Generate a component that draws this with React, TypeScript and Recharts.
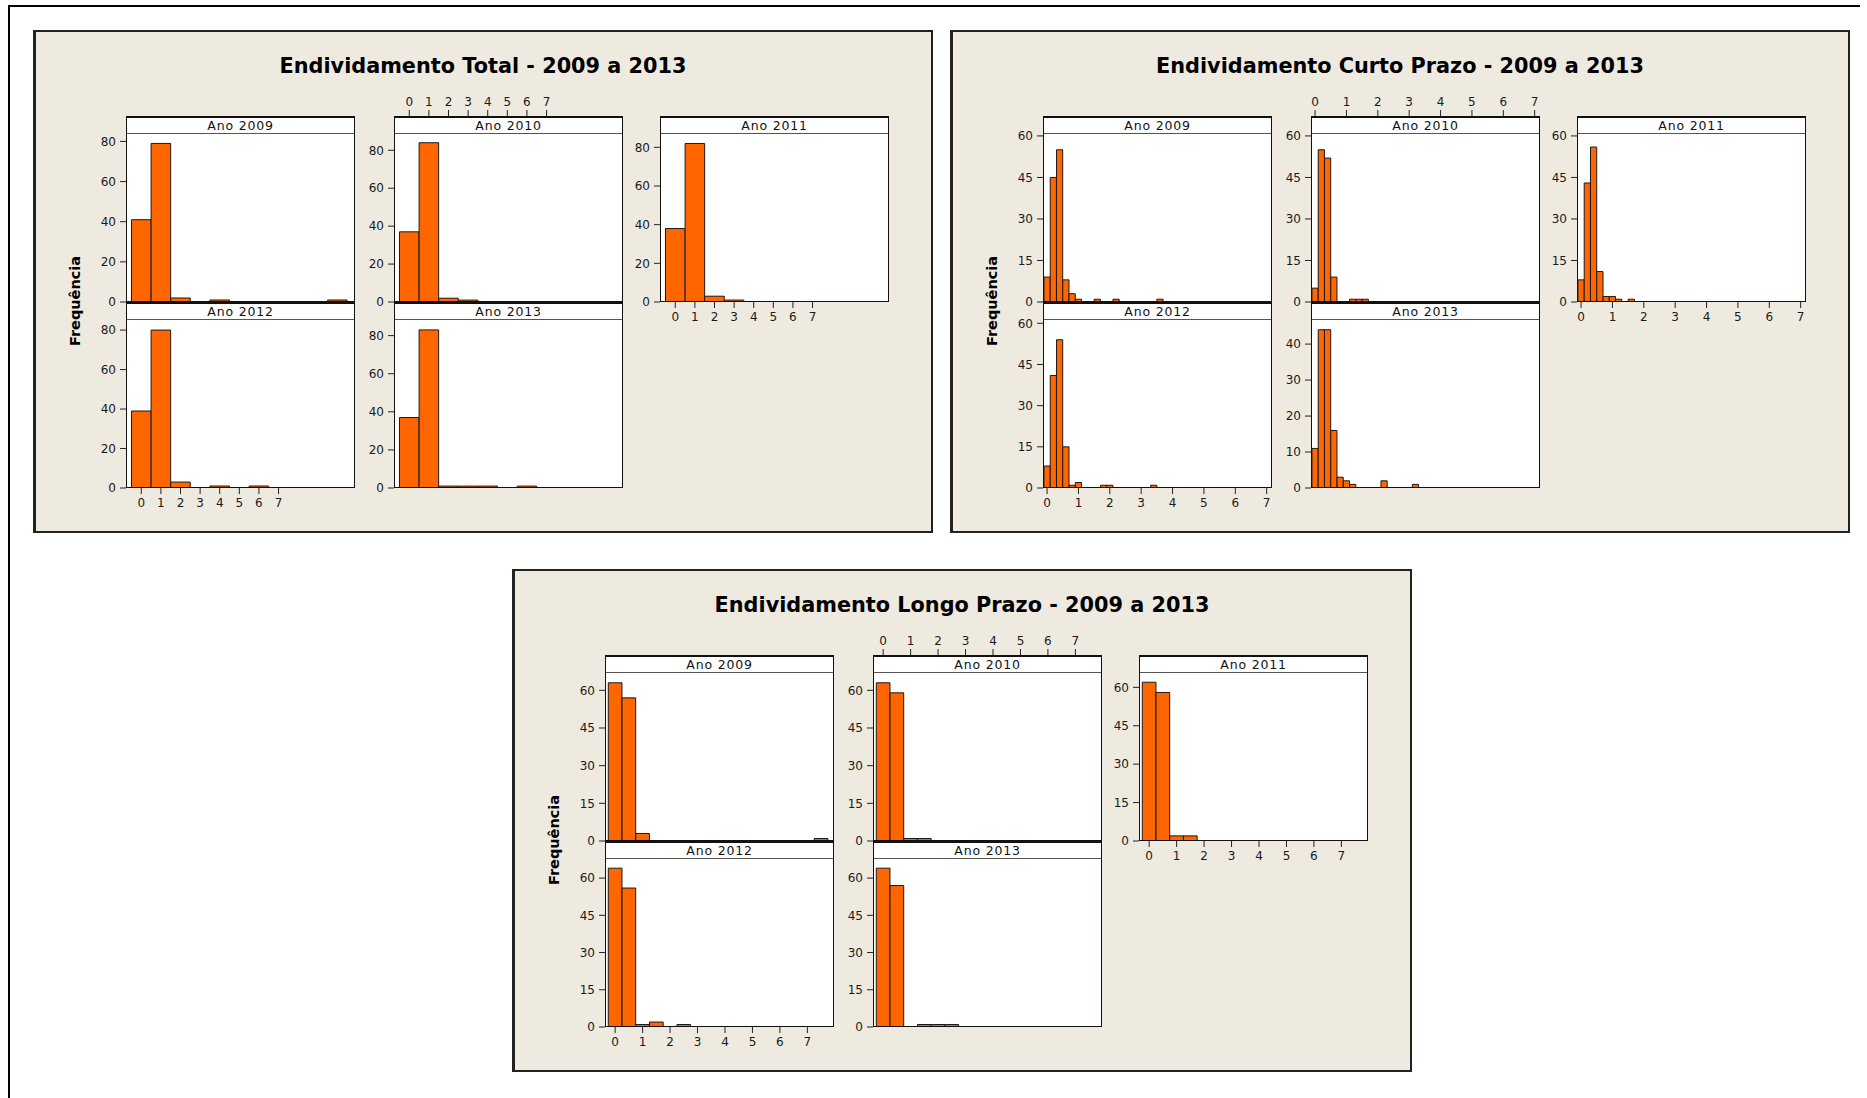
import React from 'react';
import { BarChart, Bar, XAxis, YAxis } from 'recharts';

const FONT = '"DejaVu Sans", Verdana, sans-serif';

const anos = ['Ano 2009', 'Ano 2010', 'Ano 2011', 'Ano 2012', 'Ano 2013'];
const xTicks = [0, 1, 2, 3, 4, 5, 6, 7];

// Endividamento Total: classes de largura 1
const totalClasses = [0, 1, 2, 3, 4, 5, 6, 7, 8, 9, 10];
const total2009 = [41, 79, 2, 0, 1, 0, 0, 0, 0, 0, 1];
const total2010 = [37, 84, 2, 1, 0, 0, 0, 0, 0, 0, 0];
const total2011 = [38, 82, 3, 1, 0, 0, 0, 0, 0, 0, 0];
const total2012 = [39, 80, 3, 0, 1, 0, 1, 0, 0, 0, 0];
const total2013 = [37, 83, 1, 1, 1, 0, 1, 0, 0, 0, 0];
const totalYMax = [83.7, 88.6, 86.9, 85.1, 88.2];
const totalYTicks = [0, 20, 40, 60, 80];

// Endividamento Curto Prazo: classes de largura 0,2
const curtoClasses = [0, 0.2, 0.4, 0.6, 0.8, 1, 1.2, 1.4, 1.6, 1.8, 2, 2.2, 2.4, 2.6, 2.8, 3, 3.2, 3.4, 3.6];
const curto2009 = [9, 45, 55, 8, 3, 1, 0, 0, 1, 0, 0, 1, 0, 0, 0, 0, 0, 0, 1];
const curto2010 = [5, 55, 52, 9, 0, 0, 1, 1, 1, 0, 0, 0, 0, 0, 0, 0, 0, 0, 0];
const curto2011 = [8, 43, 56, 11, 2, 2, 1, 0, 1, 0, 0, 0, 0, 0, 0, 0, 0, 0, 0];
const curto2012 = [8, 41, 54, 15, 1, 2, 0, 0, 0, 1, 1, 0, 0, 0, 0, 0, 0, 1, 0];
const curto2013 = [11, 44, 44, 16, 3, 2, 1, 0, 0, 0, 0, 2, 0, 0, 0, 0, 1, 0, 0];
const curtoYMax = [60.7, 60.7, 60.7, 61.2, 46.7];
const curtoYTicks = [0, 15, 30, 45, 60];
const curtoYTicks2013 = [0, 10, 20, 30, 40];

// Endividamento Longo Prazo: classes de largura 0,5
const longoClasses = [0, 0.5, 1, 1.5, 2, 2.5, 3, 3.5, 4, 4.5, 5, 5.5, 6, 6.5, 7, 7.5];
const longo2009 = [63, 57, 3, 0, 0, 0, 0, 0, 0, 0, 0, 0, 0, 0, 0, 1];
const longo2010 = [63, 59, 1, 1, 0, 0, 0, 0, 0, 0, 0, 0, 0, 0, 0, 0];
const longo2011 = [62, 58, 2, 2, 0, 0, 0, 0, 0, 0, 0, 0, 0, 0, 0, 0];
const longo2012 = [64, 56, 1, 2, 0, 1, 0, 0, 0, 0, 0, 0, 0, 0, 0, 0];
const longo2013 = [64, 57, 0, 1, 1, 1, 0, 0, 0, 0, 0, 0, 0, 0, 0, 0];
const longoYMax = [66.9, 66.9, 65.6, 67.7, 67.7];
const longoYTicks = [0, 15, 30, 45, 60];

type Grupo = {
  titulo: string;
  origem: [number, number];
  classes: number[];
  series: number[][];
  yMax: number[];
  yTicks: number[][];
  xDomain: [number, number];
  larguraClasse: number;
};

const grupos: Grupo[] = [
  {
    titulo: 'Endividamento Total - 2009 a 2013',
    origem: [33, 30],
    classes: totalClasses,
    series: [total2009, total2010, total2011, total2012, total2013],
    yMax: totalYMax,
    yTicks: [totalYTicks, totalYTicks, totalYTicks, totalYTicks, totalYTicks],
    xDomain: [-0.78, 10.9],
    larguraClasse: 1,
  },
  {
    titulo: 'Endividamento Curto Prazo - 2009 a 2013',
    origem: [950, 30],
    classes: curtoClasses,
    series: [curto2009, curto2010, curto2011, curto2012, curto2013],
    yMax: curtoYMax,
    yTicks: [curtoYTicks, curtoYTicks, curtoYTicks, curtoYTicks, curtoYTicks2013],
    xDomain: [-0.13, 7.17],
    larguraClasse: 0.2,
  },
  {
    titulo: 'Endividamento Longo Prazo - 2009 a 2013',
    origem: [512, 569],
    classes: longoClasses,
    series: [longo2009, longo2010, longo2011, longo2012, longo2013],
    yMax: longoYMax,
    yTicks: [longoYTicks, longoYTicks, longoYTicks, longoYTicks, longoYTicks],
    xDomain: [-0.37, 7.97],
    larguraClasse: 0.5,
  },
];

// trellis layout of one panel (offsets inside the panel)
const PANEL_W = 900;
const PANEL_H = 503;
const COL_X = [93, 361, 627];
const STRIP_TOP = [86, 272];
const FRAME_W = 229;
const STRIP_H = 18;
const PLOT_H = 168;
const L = 48;
const R = 4;
const T = 44;
const B = 30;

type EixoX = 'none' | 'top' | 'bottom';
const celulas: { col: number; row: number; eixoX: EixoX }[] = [
  { col: 0, row: 0, eixoX: 'none' },
  { col: 1, row: 0, eixoX: 'top' },
  { col: 2, row: 0, eixoX: 'bottom' },
  { col: 0, row: 1, eixoX: 'bottom' },
  { col: 1, row: 1, eixoX: 'none' },
];

const tickStyle = { fontSize: 12, fill: '#1a1a1a', fontFamily: FONT };

// top scale is drawn above the strip, not at the plot edge
const TopTick = (props: any) => {
  const { x, payload } = props;
  const base = T - STRIP_H;
  return (
    <g>
      <line x1={x} x2={x} y1={base} y2={base - 6} stroke="#222" strokeWidth={1} />
      <text x={x} y={base - 10} textAnchor="middle" fontSize={12} fill="#1a1a1a" fontFamily={FONT}>
        {payload.value}
      </text>
    </g>
  );
};

function Histograma({ grupo, idx }: { grupo: Grupo; idx: number }) {
  const cel = celulas[idx];
  const [ox, oy] = grupo.origem;
  const frameLeft = ox + COL_X[cel.col];
  const stripTop = oy + STRIP_TOP[cel.row];
  const plotTop = stripTop + STRIP_H;
  const dados = grupo.classes.map((c, i) => ({ classe: c, freq: grupo.series[idx][i] }));
  const larguraPx = (grupo.larguraClasse / (grupo.xDomain[1] - grupo.xDomain[0])) * FRAME_W - 0.05;
  const emCima = cel.eixoX === 'top';

  return (
    <>
      <div
        style={{
          position: 'absolute',
          left: frameLeft,
          top: stripTop,
          width: FRAME_W,
          height: STRIP_H + PLOT_H,
          background: '#ffffff',
        }}
      />
      <div style={{ position: 'absolute', left: frameLeft - L, top: plotTop - T }}>
        <BarChart
          width={L + FRAME_W + R}
          height={T + PLOT_H + B}
          data={dados}
          margin={{ top: emCima ? 0 : T, right: R, bottom: emCima ? B : 0, left: 0 }}
        >
          <XAxis
            dataKey="classe"
            type="number"
            domain={grupo.xDomain}
            allowDataOverflow
            ticks={xTicks}
            interval={0}
            orientation={emCima ? 'top' : 'bottom'}
            height={emCima ? T : B}
            axisLine={false}
            tickLine={cel.eixoX === 'bottom' ? { stroke: '#222' } : false}
            tickSize={6}
            tickMargin={4}
            tick={cel.eixoX === 'bottom' ? tickStyle : emCima ? TopTick : false}
          />
          <YAxis
            type="number"
            domain={[0, grupo.yMax[idx]]}
            allowDataOverflow
            ticks={grupo.yTicks[idx]}
            interval={0}
            width={L}
            axisLine={false}
            tickLine={{ stroke: '#222' }}
            tickSize={6}
            tickMargin={4}
            tick={tickStyle}
          />
          <Bar
            dataKey="freq"
            fill="#FF6600"
            stroke="#1a1a1a"
            strokeWidth={1}
            barSize={larguraPx}
            isAnimationActive={false}
          />
        </BarChart>
      </div>
      <div
        style={{
          position: 'absolute',
          left: frameLeft,
          top: stripTop,
          width: FRAME_W,
          height: STRIP_H + PLOT_H,
          boxSizing: 'border-box',
          border: '1.5px solid #111',
          borderTopWidth: 2,
        }}
      >
        <div
          style={{
            height: STRIP_H - 2,
            borderBottom: '1px solid #555',
            boxSizing: 'border-box',
            textAlign: 'center',
            fontFamily: FONT,
            fontSize: 12.5,
            letterSpacing: 0.8,
            lineHeight: `${STRIP_H - 3}px`,
            color: '#111',
          }}
        >
          {anos[idx]}
        </div>
      </div>
    </>
  );
}

function Painel({ grupo }: { grupo: Grupo }) {
  const [ox, oy] = grupo.origem;
  return (
    <>
      <div
        style={{
          position: 'absolute',
          left: ox,
          top: oy,
          width: PANEL_W,
          height: PANEL_H,
          boxSizing: 'border-box',
          background: '#EEEAE0',
          border: '2px solid #222',
          borderLeftWidth: 3,
        }}
      />
      <div
        style={{
          position: 'absolute',
          left: ox,
          top: oy + 24,
          width: PANEL_W,
          textAlign: 'center',
          fontFamily: FONT,
          fontWeight: 'bold',
          fontSize: 20.8,
          lineHeight: '24px',
          color: '#000',
        }}
      >
        {grupo.titulo}
      </div>
      <div
        style={{
          position: 'absolute',
          left: ox + 42,
          top: oy + 271,
          transform: 'translate(-50%, -50%) rotate(-90deg)',
          fontFamily: FONT,
          fontWeight: 'bold',
          fontSize: 14.5,
          whiteSpace: 'nowrap',
          color: '#000',
        }}
      >
        Frequência
      </div>
      {anos.map((_, i) => (
        <Histograma key={i} grupo={grupo} idx={i} />
      ))}
    </>
  );
}

export default function App() {
  return (
    <div
      style={{
        position: 'absolute',
        left: 0,
        top: 0,
        width: 1867,
        height: 1098,
        background: '#ffffff',
        overflow: 'hidden',
      }}
    >
      <div style={{ position: 'absolute', left: 8, top: 5, width: 1852, height: 2, background: '#000' }} />
      <div style={{ position: 'absolute', left: 8, top: 5, width: 2, height: 1093, background: '#000' }} />
      {grupos.map((g, i) => (
        <Painel key={i} grupo={g} />
      ))}
    </div>
  );
}
